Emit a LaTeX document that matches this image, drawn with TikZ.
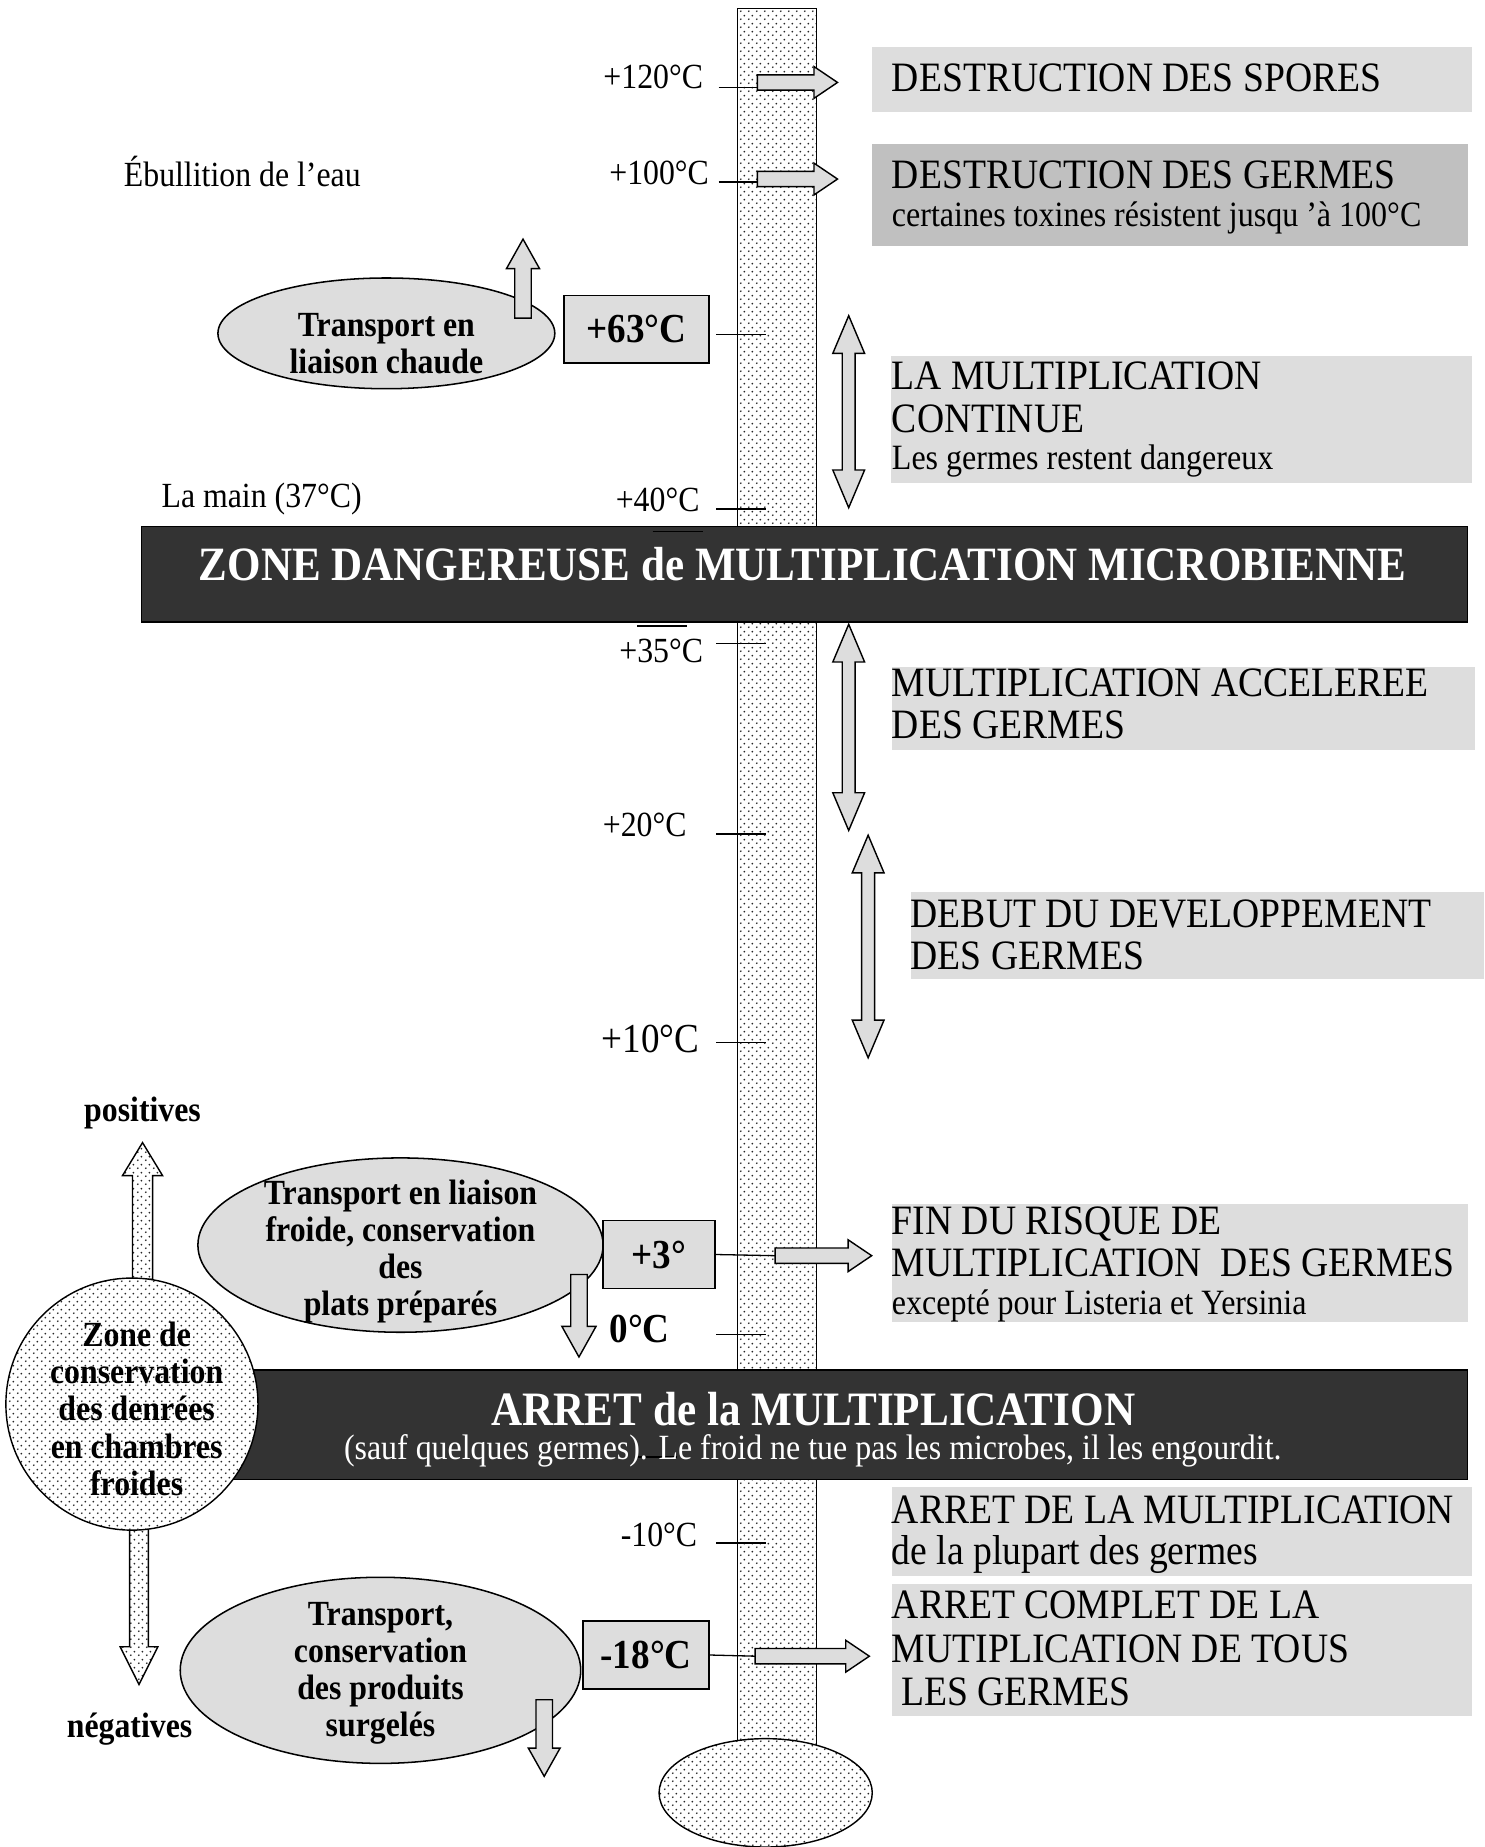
\documentclass[tikz,border=0pt]{standalone}
\usepackage{fontspec}
\setmainfont{Liberation Serif}[FakeStretch=0.9]
\usetikzlibrary{shapes.geometric,patterns.meta}
\definecolor{lg}{HTML}{DDDDDD}
\definecolor{mg}{HTML}{C0C0C0}
\definecolor{dk}{HTML}{333333}
\newcommand\fsz[1]{\fontsize{#1}{#1}\selectfont}
\newcommand\fszl[2]{\fontsize{#1}{#2}\selectfont}
\tikzdeclarepattern{
  name=mydots,
  type=uncolored,
  bottom left={(0pt,0pt)},
  top right={(6.4pt,6.4pt)},
  tile size={(6.4pt,6.4pt)},
  code={
    \pgfpathcircle{\pgfpoint{1.6pt}{1.6pt}}{0.85pt}
    \pgfpathcircle{\pgfpoint{4.8pt}{4.8pt}}{0.85pt}
    \pgfusepath{fill}
  }
}
% right block arrow: x tail, x tip, y centre
\newcommand\rblock[3]{%
  \filldraw[blk] (#1,#3-6.5) -- (#2-20,#3-6.5) -- (#2-20,#3-13.5) -- (#2,#3)
    -- (#2-20,#3+13.5) -- (#2-20,#3+6.5) -- (#1,#3+6.5) -- cycle;}
% vertical double arrow: x, y top tip, y bottom tip
\newcommand\dblarr[3]{%
  \filldraw[blk] (#1,#2) -- (#1+13.5,#2+32) -- (#1+5.5,#2+32) -- (#1+5.5,#3-32)
    -- (#1+13.5,#3-32) -- (#1,#3) -- (#1-13.5,#3-32) -- (#1-5.5,#3-32)
    -- (#1-5.5,#2+32) -- (#1-13.5,#2+32) -- cycle;}
% vertical single arrow: style, x, y tail, y head base, y tip, shaft half, head half
\newcommand\vblock[7]{%
  \filldraw[#1] (#2-#6,#3) -- (#2-#6,#4) -- (#2-#7,#4) -- (#2,#5) -- (#2+#7,#4)
    -- (#2+#6,#4) -- (#2+#6,#3) -- cycle;}
\begin{document}
\begin{tikzpicture}[x=1pt,y=-1pt,
  greybox/.style={fill=lg,draw=none},
  tempbox/.style={draw=black,fill=lg,line width=1.3pt,inner sep=0,font=\bfseries\fsz{35}},
  blk/.style={draw=black,fill=lg,line width=1.2pt,line join=miter},
  dotfill/.style={draw=black,line width=1.2pt,preaction={fill=white},pattern=mydots,pattern color=black!85},
  bar/.style={fill=dk,draw=black,line width=1.3pt},
  oval/.style={ellipse,draw=black,fill=lg,line width=1.3pt,inner sep=0},
  tickline/.style={line width=1.1pt},
  lbl/.style={inner sep=0,font=\fsz{30}},
  bigtxt/.style={inner sep=0,anchor=base west,font=\fsz{35.5}},
  smalltxt/.style={inner sep=0,anchor=base west,font=\fsz{30.2}},
  boldlbl/.style={inner sep=0,font=\bfseries\fsz{30}},
  ovaltxt/.style={inner sep=0,align=center,font=\bfseries\fszl{30}{31.6}},
]
\useasboundingbox (0,0) rectangle (1260,1568);
\fill[white] (0,0) rectangle (1260,1568);

% right grey boxes
\path[greybox] (740,40) rectangle (1250,95);
\path[fill=mg] (740,122) rectangle (1246,209);
\path[greybox] (756,302) rectangle (1250,410);
\path[greybox] (757,566) rectangle (1252,637);
\path[greybox] (773,757) rectangle (1260,831);
\path[greybox] (757,1022) rectangle (1246,1122);
\path[greybox] (757,1262) rectangle (1250,1338);
\path[greybox] (757,1345) rectangle (1250,1457);

% thermometer
\path[dotfill,draw=none] (626,1490) -- (626,7) -- (693,7) -- (693,1490);
\draw[line width=1.2pt] (626,1490) -- (626,7) -- (693,7) -- (693,1490);
\node[ellipse,dotfill,minimum width=181pt,minimum height=92pt,inner sep=0] (bulb) at (650,1522) {};

% ticks
\draw[tickline] (610,74) -- (643,74);
\draw[tickline] (610,154.5) -- (643,154.5);
\draw[tickline] (608,284) -- (650,284);
\draw[tickline] (608,432) -- (650,432);
\draw[tickline] (608,546) -- (650,546);
\draw[tickline] (608,708) -- (650,708);
\draw[tickline] (608,885) -- (650,885);
\draw[tickline] (608,1133) -- (650,1133);
\draw[tickline] (608,1310) -- (650,1310);

% right block arrows
\rblock{643}{711}{70}
\rblock{643}{711}{152}
\rblock{658}{740}{1066}
\rblock{641}{738}{1406}

% vertical double arrows
\dblarr{720.5}{268}{431}
\dblarr{720.5}{530}{705}
\dblarr{737}{709}{898}

% dark bars
\path[bar] (120,447) rectangle (1246,528);
\path[bar] (180,1163) rectangle (1246,1256);
\draw[line width=1.1pt,black] (554,451) -- (597,451);
\draw[line width=1.1pt,black] (541,531.5) -- (583,531.5);
\draw[line width=1.1pt,black] (540,1237) -- (575,1237);
\node[inner sep=0,text=white,font=\bfseries\fsz{40.6}] (zone) at (681.5,479) {ZONE DANGEREUSE de MULTIPLICATION MICROBIENNE};
\node[inner sep=0,text=white,font=\bfseries\fsz{40.7}] (arret) at (690.5,1196) {ARRET de la MULTIPLICATION};
\node[inner sep=0,text=white,font=\fsz{30.1}] (sauf) at (690,1232) {(sauf quelques germes). Le froid ne tue pas les microbes, il les engourdit.};

% circle and dotted arrows
\vblock{dotfill}{121}{1086}{998}{970}{8.5}{17}
\vblock{dotfill}{118}{1292}{1398}{1430}{8}{16}
\node[circle,dotfill,minimum size=214pt,inner sep=0] (zonec) at (112,1192) {};
\node[ovaltxt] (zonetxt) at (116,1196) {Zone de\\conservation\\des denrées\\en chambres\\froides};

% ellipses
\node[oval,minimum width=286pt,minimum height=94pt] (e1) at (328,283) {};
\node[oval,minimum width=344pt,minimum height=148pt] (e2) at (340,1057) {};
\node[oval,minimum width=340pt,minimum height=158pt] (e3) at (323,1418) {};
\node[ovaltxt] (e1t) at (328,291.5) {Transport en\\liaison chaude};
\node[ovaltxt] (e2t) at (340,1062.5) {Transport en liaison\\froide, conservation\\des\\plats préparés};
\node[ovaltxt] (e3t) at (323,1420.5) {Transport,\\conservation\\des produits\\surgelés};

% small block arrows from ellipses
\vblock{blk}{444}{270}{228}{203}{7}{14}
\vblock{blk}{491.5}{1082}{1126}{1152}{7}{14.5}
\vblock{blk}{462}{1443}{1484}{1508}{7}{13.5}

% temperature boxes
\node[tempbox,minimum width=123pt,minimum height=57pt] (b63) at (540.5,279.5) {+63°C};
\node[tempbox,minimum width=95pt,minimum height=58pt] (b3) at (559.5,1065) {+3°};
\node[tempbox,minimum width=107pt,minimum height=58pt] (b18) at (548.5,1405) {-18°C};
\draw[tickline] (b3.east) -- (658,1066);
\draw[tickline] (b18.east) -- (641,1406);

% left labels
\node[lbl,anchor=west] (ebul) at (105,146) {Ébullition de l’eau};
\node[lbl,anchor=east] (t120) at (597,65) {+120°C};
\node[lbl,anchor=east] (t100) at (602,147) {+100°C};
\node[lbl,anchor=west] (main) at (137,424) {La main (37°C)};
\node[lbl,anchor=east] (t40) at (594,424) {+40°C};
\node[lbl,anchor=east] (t35) at (597,553) {+35°C};
\node[lbl,anchor=east] (t20) at (583,700) {+20°C};
\node[lbl,anchor=east,font=\fsz{35}] (t10) at (594,882) {+10°C};
\node[lbl,anchor=east] (tm10) at (592,1303) {-10°C};
\node[inner sep=0,font=\bfseries\fsz{35}] (t0) at (543,1128) {0°C};
\node[boldlbl] (pos) at (121,945) {positives};
\node[boldlbl] (neg) at (110,1468) {négatives};

% right texts
\node[bigtxt] (r1) at (757,78) {DESTRUCTION DES SPORES};
\node[bigtxt] (r2) at (757,160) {DESTRUCTION DES GERMES};
\node[smalltxt] (r2b) at (757,192) {certaines toxines résistent jusqu ’à 100°C};
\node[bigtxt] (r3) at (757,331) {LA MULTIPLICATION};
\node[bigtxt] (r3b) at (757,367) {CONTINUE};
\node[smalltxt] (r3c) at (757,399) {Les germes restent dangereux};
\node[bigtxt] (r4) at (757,591) {MULTIPLICATION ACCELEREE};
\node[bigtxt] (r4b) at (757,627) {DES GERMES};
\node[bigtxt] (r5) at (773,787) {DEBUT DU DEVELOPPEMENT};
\node[bigtxt] (r5b) at (773,823) {DES GERMES};
\node[bigtxt] (r6) at (757,1048) {FIN DU RISQUE DE};
\node[bigtxt] (r6b) at (757,1084) {MULTIPLICATION\ \ DES GERMES};
\node[smalltxt] (r6c) at (757,1116) {excepté pour Listeria et Yersinia};
\node[bigtxt] (r7) at (757,1293) {ARRET DE LA MULTIPLICATION};
\node[bigtxt] (r7b) at (757,1328) {de la plupart des germes};
\node[bigtxt] (r8) at (757,1374) {ARRET COMPLET DE LA};
\node[bigtxt] (r8b) at (757,1411) {MUTIPLICATION DE TOUS};
\node[bigtxt] (r8c) at (765,1448) {LES GERMES};
\end{tikzpicture}
\end{document}
